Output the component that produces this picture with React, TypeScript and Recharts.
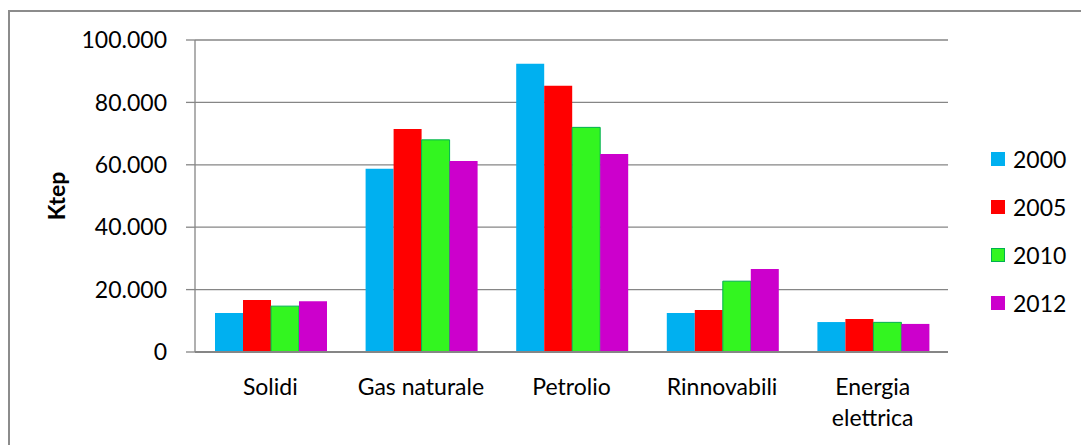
import React from 'react';
import { BarChart, Bar, XAxis, YAxis, CartesianGrid, Legend, Label } from 'recharts';

const categories = ['Solidi', 'Gas naturale', 'Petrolio', 'Rinnovabili', 'Energia elettrica'];
const y2000 = [12500, 58700, 92400, 12500, 9600];
const y2005 = [16700, 71500, 85300, 13500, 10600];
const y2010 = [14700, 68000, 72000, 22700, 9500];
const y2012 = [16300, 61200, 63500, 26600, 9000];
const yTicks = [0, 20000, 40000, 60000, 80000, 100000];

const series = [
  { key: '2000', fill: '#00B0F0', stroke: 'none' },
  { key: '2005', fill: '#FF0000', stroke: 'none' },
  { key: '2010', fill: '#33F520', stroke: '#00B050' },
  { key: '2012', fill: '#CC00CC', stroke: 'none' },
];

const data = categories.map((name, i) => ({
  name,
  '2000': y2000[i],
  '2005': y2005[i],
  '2010': y2010[i],
  '2012': y2012[i],
}));

const FONT = 'Lato, "Open Sans", sans-serif';
const GRID = '#868686';

const fmt = (v: number) => String(v).replace(/\B(?=(\d{3})+(?!\d))/g, '.');

// long names go on two lines, like the original
const CategoryTick = (props: any) => {
  const { x, y, payload } = props;
  const text: string = payload.value;
  const lines = text.length > 14 ? text.split(' ') : [text];
  return (
    <text x={x} y={y} textAnchor="middle" fontFamily={FONT} fontSize={23} fill="#000">
      {lines.map((l, i) => (
        <tspan key={i} x={x} dy={i === 0 ? 16 : 31}>
          {l}
        </tspan>
      ))}
    </text>
  );
};

const LegendBox = () => (
  <div style={{ fontFamily: FONT, fontSize: 23, color: '#000' }}>
    {series.map((s) => (
      <div key={s.key} style={{ height: 48, display: 'flex', alignItems: 'center' }}>
        <span
          style={{
            display: 'inline-block',
            width: 14,
            height: 14,
            background: s.fill,
            boxSizing: 'border-box',
            border: s.stroke !== 'none' ? `1px solid ${s.stroke}` : 'none',
            marginRight: 8,
          }}
        />
        <span>{s.key}</span>
      </div>
    ))}
  </div>
);

const App = () => {
  return (
    <div style={{ position: 'absolute', left: 0, top: 0, width: 1081, height: 445, overflow: 'hidden', background: '#fff' }}>
      <div
        style={{
          position: 'absolute',
          left: 8,
          top: 10,
          width: 1200,
          height: 600,
          borderTop: '2px solid #8c8c8c',
          borderLeft: '2px solid #8c8c8c',
        }}
      />
      <div style={{ position: 'absolute', left: 0, top: 0 }}>
        <BarChart
          width={1081}
          height={445}
          data={data}
          margin={{ top: 40, right: 53, left: 0, bottom: 0 }}
          barCategoryGap={20}
          barGap={0}
        >
          <CartesianGrid vertical={false} stroke={GRID} strokeWidth={1.3} />
          <XAxis
            dataKey="name"
            height={93}
            axisLine={{ stroke: GRID, strokeWidth: 2 }}
            tickLine={false}
            tickSize={0}
            tickMargin={27}
            interval={0}
            tick={<CategoryTick />}
          />
          <YAxis
            width={195}
            domain={[0, 100000]}
            ticks={yTicks}
            tickFormatter={fmt}
            axisLine={{ stroke: GRID, strokeWidth: 1.3 }}
            tickLine={{ stroke: GRID, strokeWidth: 1.3 }}
            tickSize={9}
            tickMargin={19}
            tick={{ fontFamily: FONT, fontSize: 23, fill: '#000' }}
          >
            <Label
              content={() => (
                <text
                  x={56}
                  y={196}
                  transform="rotate(-90 56 196)"
                  textAnchor="middle"
                  dominantBaseline="central"
                  fontFamily={FONT}
                  fontSize={23}
                  fontWeight="bold"
                  fill="#000"
                >
                  Ktep
                </text>
              )}
            />
          </YAxis>
          <Legend
            layout="vertical"
            align="right"
            verticalAlign="top"
            width={80}
            wrapperStyle={{ left: 991, top: 135, width: 80 }}
            content={<LegendBox />}
          />
          {series.map((s) => (
            <Bar
              key={s.key}
              dataKey={s.key}
              fill={s.fill}
              stroke={s.stroke}
              strokeWidth={1}
              isAnimationActive={false}
            />
          ))}
        </BarChart>
      </div>
    </div>
  );
};

export default App;
